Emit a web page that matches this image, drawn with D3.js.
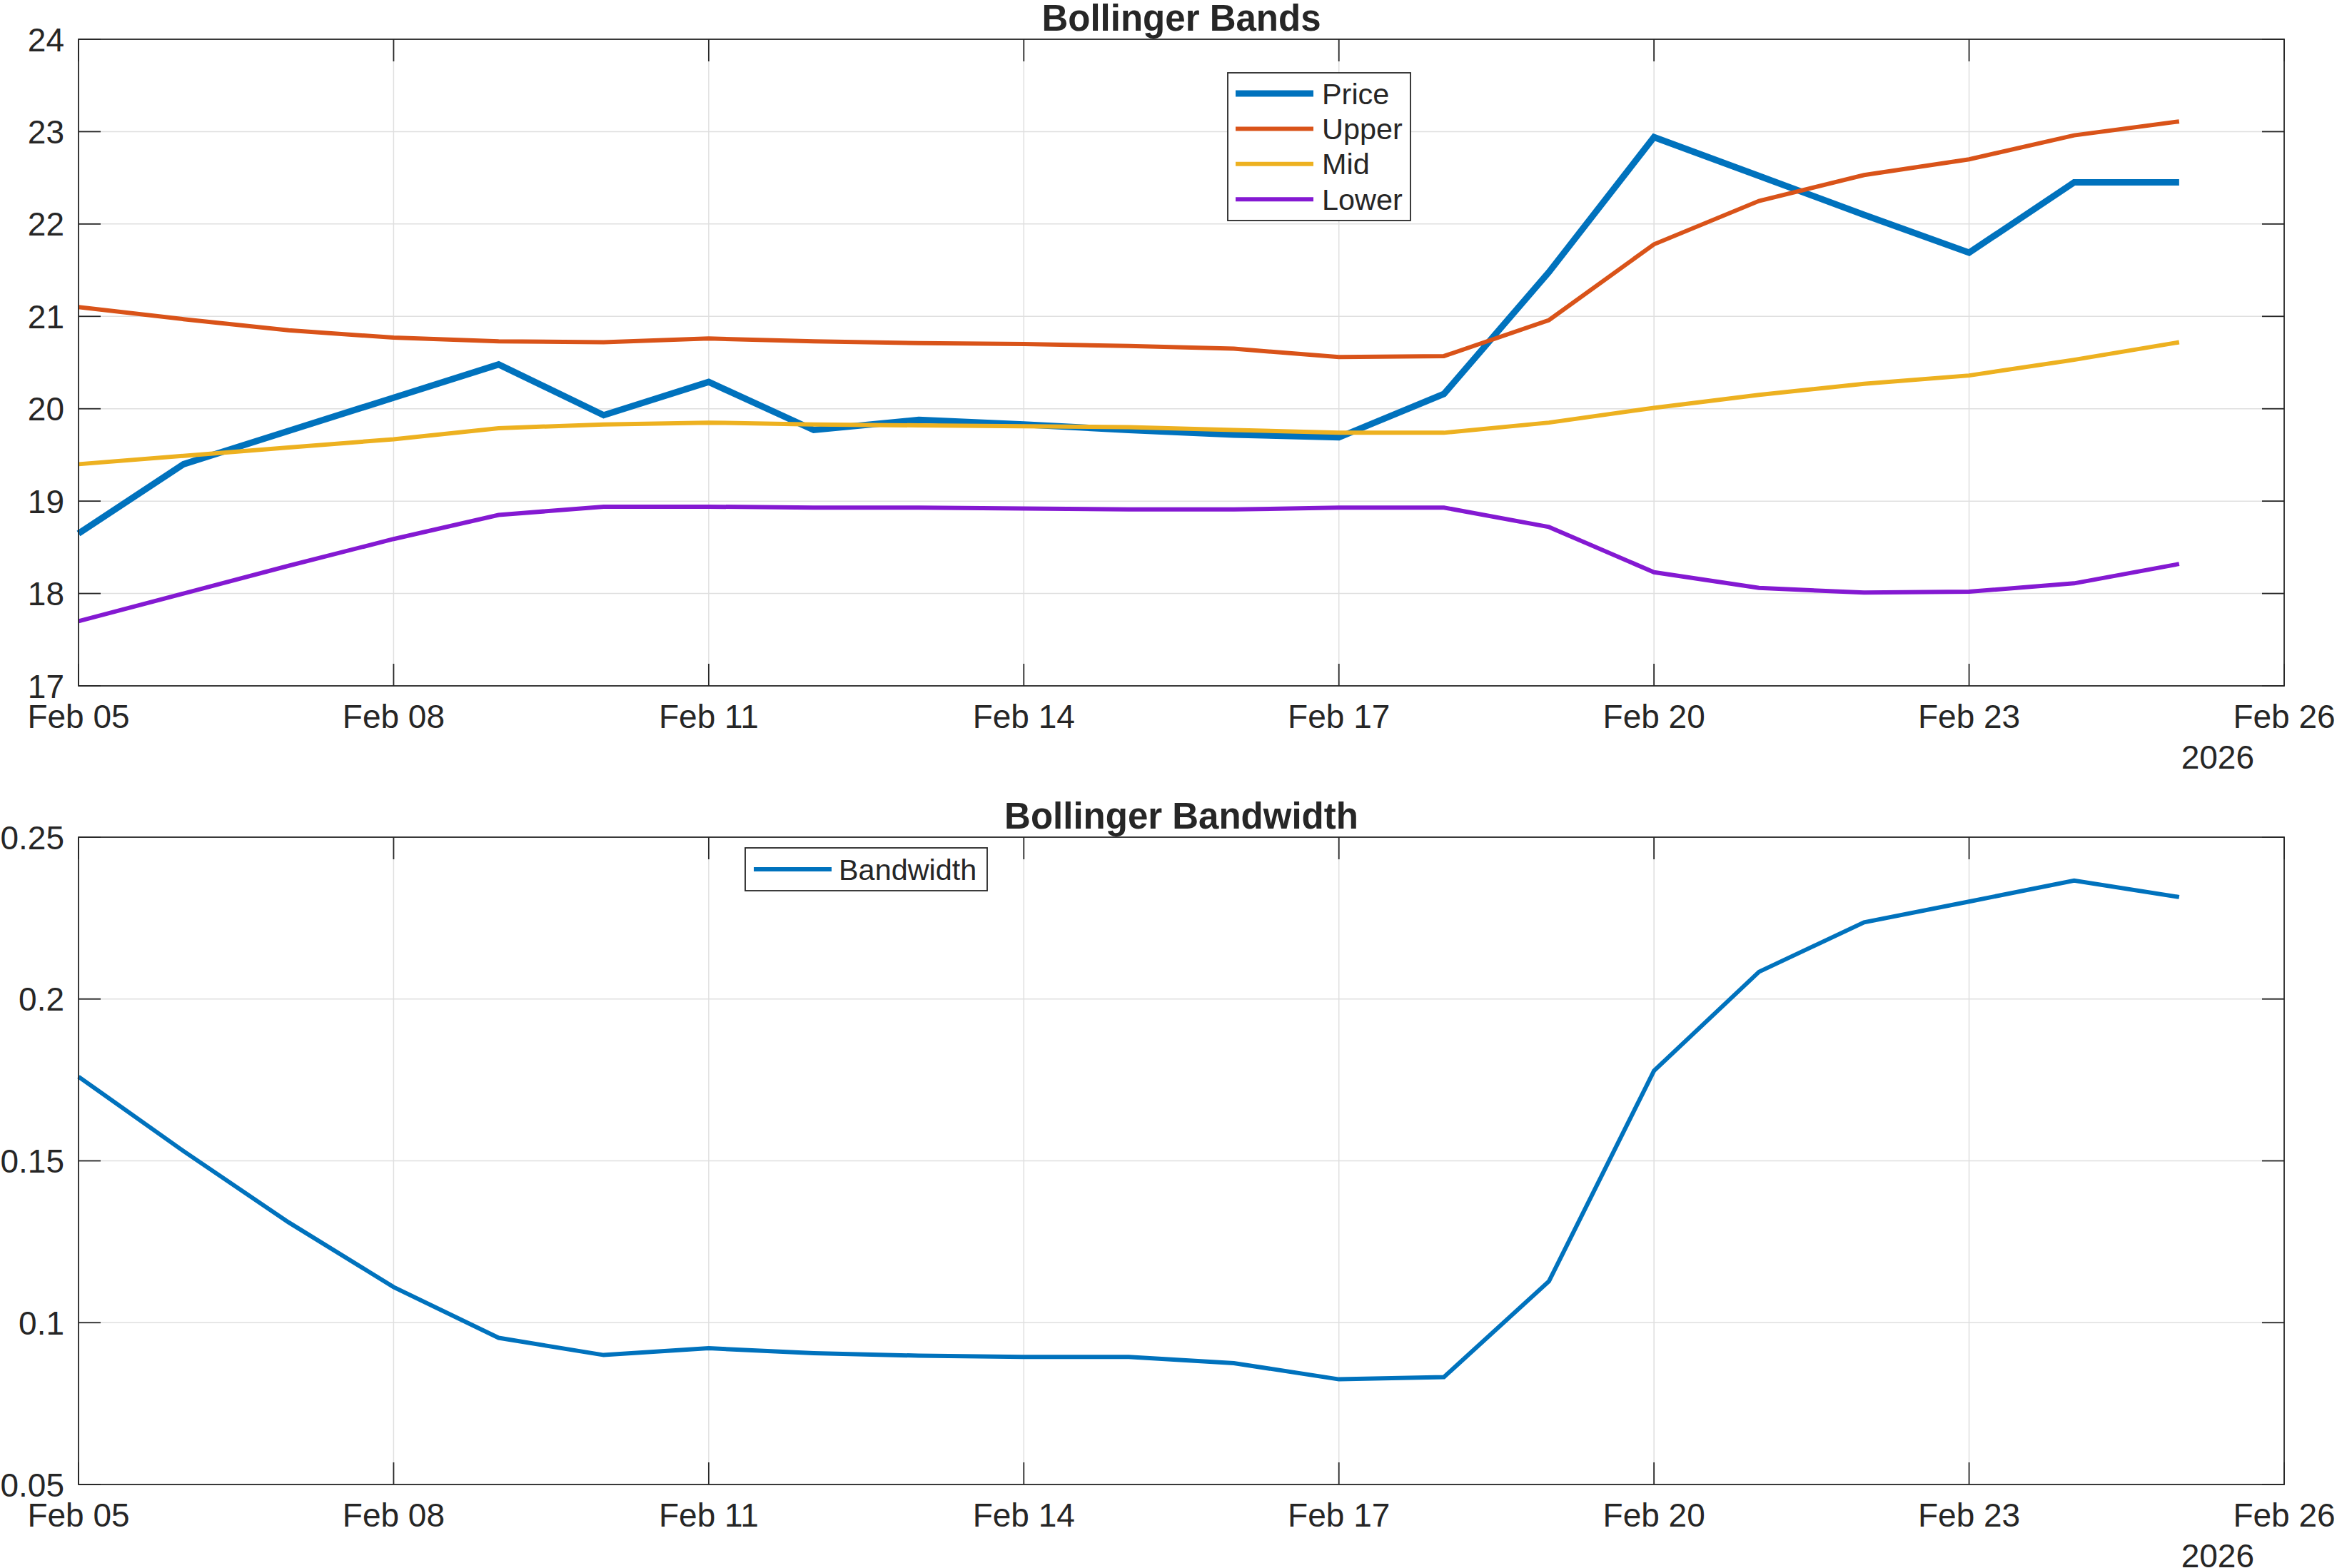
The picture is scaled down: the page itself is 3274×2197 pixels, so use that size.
<!DOCTYPE html>
<html>
<head>
<meta charset="utf-8">
<script src="https://cdn.jsdelivr.net/npm/d3@7"></script>
<style>
  html, body { margin: 0; padding: 0; background: #fff; }
  svg { display: block; }
</style>
</head>
<body>
<script>
// ---------------- data ----------------
const dates = ["2026-02-05","2026-02-06","2026-02-07","2026-02-08","2026-02-09","2026-02-10","2026-02-11",
  "2026-02-12","2026-02-13","2026-02-14","2026-02-15","2026-02-16","2026-02-17","2026-02-18",
  "2026-02-19","2026-02-20","2026-02-21","2026-02-22","2026-02-23","2026-02-24","2026-02-25"];
const price = [18.65, 19.40, 19.76, 20.12, 20.48, 19.93, 20.29, 19.77, 19.88, 19.83, 19.77, 19.72, 19.69, 20.16, 21.48, 22.94, 22.52, 22.10, 21.69, 22.45, 22.45];
const upper = [21.10, 20.97, 20.85, 20.77, 20.73, 20.72, 20.76, 20.73, 20.71, 20.70, 20.68, 20.65, 20.56, 20.57, 20.96, 21.78, 22.25, 22.53, 22.70, 22.96, 23.11];
const mid   = [19.40, 19.49, 19.58, 19.67, 19.79, 19.83, 19.85, 19.83, 19.82, 19.81, 19.80, 19.77, 19.74, 19.74, 19.85, 20.01, 20.15, 20.27, 20.36, 20.53, 20.72];
const lower = [17.70, 18.00, 18.30, 18.59, 18.85, 18.94, 18.94, 18.93, 18.93, 18.92, 18.91, 18.91, 18.93, 18.93, 18.72, 18.23, 18.06, 18.01, 18.02, 18.11, 18.32];
const bandwidth = [0.176, 0.153, 0.131, 0.111, 0.0953, 0.0900, 0.0921, 0.0906, 0.0898, 0.0894, 0.0894, 0.0875, 0.0825, 0.0832, 0.1128, 0.1778, 0.2084, 0.2237, 0.2301, 0.2366, 0.2315];

const xTickDates = ["2026-02-05","2026-02-08","2026-02-11","2026-02-14","2026-02-17","2026-02-20","2026-02-23","2026-02-26"];
const xTickLabels = ["Feb 05","Feb 08","Feb 11","Feb 14","Feb 17","Feb 20","Feb 23","Feb 26"];
const yearLabel = "2026";
const yTicks1 = [17, 18, 19, 20, 21, 22, 23, 24];
const yTicks2 = [0.05, 0.1, 0.15, 0.2, 0.25];
const yTickLabels2 = ["0.05", "0.1", "0.15", "0.2", "0.25"];
const seriesNames = ["Price", "Upper", "Mid", "Lower"];
const title1 = "Bollinger Bands";
const title2 = "Bollinger Bandwidth";

// ---------------- setup ----------------
const W = 3274, H = 2197;
const FONT = "'Liberation Sans', Arial, Helvetica, sans-serif";
const AX = "#262626";
const GRID = "#dfdfdf";
const colors = { Price: "#0072BD", Upper: "#D95319", Mid: "#EDB120", Lower: "#8419D2" };
const widths = { Price: 9, Upper: 6, Mid: 6, Lower: 6 };

const svg = d3.select("body").append("svg").attr("width", W).attr("height", H)
  .style("font-family", FONT);

const parse = d3.utcParse("%Y-%m-%d");
const dts = dates.map(parse);
const xL = 110, xR = 3200;
const x = d3.scaleUtc().domain([parse("2026-02-05"), parse("2026-02-26")]).range([xL, xR]);
const tickLen = 31;

function drawPanel(top, bottom, yDomain, yTicks, yLabels, title) {
  const y = d3.scaleLinear().domain(yDomain).range([bottom, top]);
  const g = svg.append("g");
  // grid
  const gridG = g.append("g");
  xTickDates.forEach(s => {
    const px = x(parse(s));
    gridG.append("line").attr("x1", px).attr("x2", px).attr("y1", top).attr("y2", bottom)
      .attr("stroke", GRID).attr("stroke-width", 1.5);
  });
  yTicks.forEach(v => {
    gridG.append("line").attr("x1", xL).attr("x2", xR).attr("y1", y(v)).attr("y2", y(v))
      .attr("stroke", GRID).attr("stroke-width", 1.5);
  });
  // title
  g.append("text").attr("x", (xL + xR) / 2).attr("y", top - 12)
    .attr("text-anchor", "middle").attr("font-size", 51).attr("font-weight", "bold")
    .attr("fill", AX).text(title);
  return { g, y };
}

function drawAxes(g, y, top, bottom, yTicks, yLabels) {
  const ag = g.append("g");
  // box
  ag.append("rect").attr("x", xL).attr("y", top).attr("width", xR - xL).attr("height", bottom - top)
    .attr("fill", "none").attr("stroke", AX).attr("stroke-width", 1.8);
  // y ticks both sides
  yTicks.forEach((v, i) => {
    const py = y(v);
    ag.append("line").attr("x1", xL).attr("x2", xL + tickLen).attr("y1", py).attr("y2", py)
      .attr("stroke", AX).attr("stroke-width", 1.8);
    ag.append("line").attr("x1", xR - tickLen).attr("x2", xR).attr("y1", py).attr("y2", py)
      .attr("stroke", AX).attr("stroke-width", 1.8);
    ag.append("text").attr("x", xL - 20).attr("y", py + 16.5).attr("text-anchor", "end")
      .attr("font-size", 46).attr("fill", AX).text(yLabels[i]);
  });
  // x ticks both sides
  xTickDates.forEach((s, i) => {
    const px = x(parse(s));
    ag.append("line").attr("x1", px).attr("x2", px).attr("y1", bottom).attr("y2", bottom - tickLen)
      .attr("stroke", AX).attr("stroke-width", 1.8);
    ag.append("line").attr("x1", px).attr("x2", px).attr("y1", top).attr("y2", top + tickLen)
      .attr("stroke", AX).attr("stroke-width", 1.8);
    ag.append("text").attr("x", px).attr("y", bottom + 59).attr("text-anchor", "middle")
      .attr("font-size", 46).attr("fill", AX).text(xTickLabels[i]);
  });
  ag.append("text").attr("x", 3158).attr("y", bottom + 116).attr("text-anchor", "end")
    .attr("font-size", 46).attr("fill", AX).text(yearLabel);
}

function drawLine(g, y, values, color, width) {
  const line = d3.line().x((d, i) => x(dts[i])).y(d => y(d));
  g.append("path").attr("d", line(values)).attr("fill", "none")
    .attr("stroke", color).attr("stroke-width", width)
    .attr("stroke-linejoin", "miter").attr("stroke-miterlimit", 10).attr("stroke-linecap", "butt");
}

// ---------------- panel 1 ----------------
const t1 = 55, b1 = 961;
const p1 = drawPanel(t1, b1, [17, 24], yTicks1, yTicks1.map(String), title1);
const series = { Price: price, Upper: upper, Mid: mid, Lower: lower };
seriesNames.forEach(n => drawLine(p1.g, p1.y, series[n], colors[n], widths[n]));
drawAxes(p1.g, p1.y, t1, b1, yTicks1, yTicks1.map(String));

// legend 1
{
  const lg = svg.append("g");
  lg.append("rect").attr("x", 1720).attr("y", 102).attr("width", 256).attr("height", 207)
    .attr("fill", "#fff").attr("stroke", AX).attr("stroke-width", 1.8);
  seriesNames.forEach((n, i) => {
    const cy = 131 + i * 49.4;
    lg.append("line").attr("x1", 1731).attr("x2", 1840).attr("y1", cy).attr("y2", cy)
      .attr("stroke", colors[n]).attr("stroke-width", widths[n]);
    lg.append("text").attr("x", 1852).attr("y", cy + 14.5).attr("font-size", 41.4)
      .attr("fill", AX).text(n);
  });
}

// ---------------- panel 2 ----------------
const t2 = 1173, b2 = 2080;
const p2 = drawPanel(t2, b2, [0.05, 0.25], yTicks2, yTickLabels2, title2);
drawLine(p2.g, p2.y, bandwidth, colors.Price, 6);
drawAxes(p2.g, p2.y, t2, b2, yTicks2, yTickLabels2);

// legend 2
{
  const lg = svg.append("g");
  lg.append("rect").attr("x", 1044).attr("y", 1188).attr("width", 339).attr("height", 60)
    .attr("fill", "#fff").attr("stroke", AX).attr("stroke-width", 1.8);
  lg.append("line").attr("x1", 1056).attr("x2", 1165).attr("y1", 1218).attr("y2", 1218)
    .attr("stroke", colors.Price).attr("stroke-width", 6);
  lg.append("text").attr("x", 1175).attr("y", 1218 + 14.5).attr("font-size", 41.4)
    .attr("fill", AX).text("Bandwidth");
}
</script>
</body>
</html>
